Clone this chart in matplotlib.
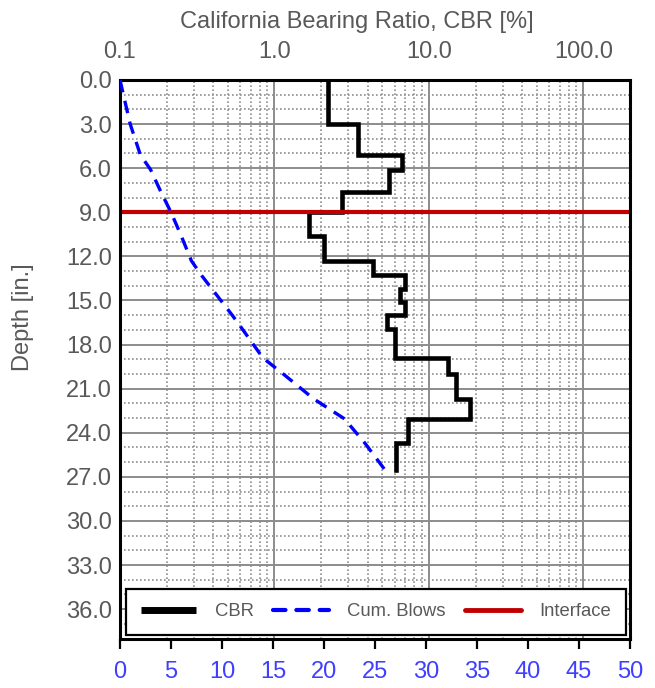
import matplotlib
matplotlib.use("Agg")
import matplotlib.pyplot as plt
from matplotlib.lines import Line2D
from matplotlib.ticker import LogLocator, NullFormatter, FixedLocator, MultipleLocator
import numpy as np

plt.rcParams['font.family'] = ['Liberation Sans', 'DejaVu Sans']

# ---- data ----
layer_bounds = [0, 3.0, 5.1, 6.1, 7.6, 9.0, 10.6, 12.3, 13.3, 14.2, 15.1, 16.0,
                16.95, 18.9, 20.0, 21.7, 23.05, 24.7, 26.55]
cbr_values = [2.21, 3.45, 6.67, 5.52, 2.73, 1.67, 2.10, 4.31, 7.0, 6.47, 7.0,
              5.38, 6.04, 13.3, 14.9, 18.3, 7.35, 6.1]
cum_blows = [0, 1, 2, 3, 4, 5, 6, 7, 8, 9, 10, 11, 12, 14, 16, 19, 22, 24, 26]
interface_depth = 9.0

cbr_ticks = [0.1, 1, 10, 100]
cbr_ticklabels = ["0.1", "1.0", "10.0", "100.0"]
depth_ticks = list(np.arange(0, 37, 3))
blow_ticks = list(range(0, 51, 5))
legend_labels = ['CBR', 'Cum. Blows', 'Interface']

# ---- figure ----
W, H = 655, 688
fig = plt.figure(figsize=(W / 100, H / 100), dpi=100)
ax = fig.add_axes([120 / W, 1 - 638.5 / H, 510 / W, 558.5 / H])
ax2 = ax.twiny()

gray = '#595959'
fs = 17

# staircase path for CBR
xs, ys = [], []
for i, v in enumerate(cbr_values):
    xs += [v, v]
    ys += [layer_bounds[i], layer_bounds[i + 1]]

ax.set_xscale('log')
ax.set_xlim(0.1, 200)
ax.set_ylim(38, 0)

ax.plot(xs, ys, color='black', lw=3.3, solid_joinstyle='miter', zorder=3)
ax.axhline(interface_depth, color='#C00000', lw=3.0, zorder=4)

ax.xaxis.set_ticks_position('top')
ax.xaxis.set_label_position('top')
ax.xaxis.set_major_locator(FixedLocator(cbr_ticks))
ax.set_xticklabels(cbr_ticklabels)
ax.xaxis.set_minor_locator(LogLocator(base=10, subs=np.arange(2, 10), numticks=20))
ax.xaxis.set_minor_formatter(NullFormatter())
ax.tick_params(axis='x', which='both', top=True, bottom=False, labeltop=True,
               labelbottom=False, length=0, pad=12, labelsize=fs, labelcolor=gray)

ax.set_yticks(depth_ticks)
ax.set_yticklabels([f"{d:.1f}" for d in depth_ticks])
ax.yaxis.set_minor_locator(MultipleLocator(1))
ax.tick_params(axis='y', which='both', length=0, pad=6, labelsize=fs, labelcolor=gray)

ax.grid(which='major', color='#8C8C8C', lw=1.4, ls='-', zorder=0)
ax.grid(which='minor', color='#8F8F8F', lw=1.2, ls=(0, (1, 1.4)), zorder=0)
ax.set_axisbelow(True)
for s in ax.spines.values():
    s.set_visible(False)

# bottom linear axis for cumulative blows
ax2.set_xlim(0, 50)
ax2.xaxis.set_ticks_position('bottom')
ax2.xaxis.set_label_position('bottom')
ax2.set_xticks(blow_ticks)
ax2.tick_params(axis='x', which='major', top=False, bottom=True, labeltop=False,
                labelbottom=True, direction='out', length=7, width=1.6,
                color='black', pad=9, labelsize=fs, labelcolor='#3F3FFF')
ax2.plot(cum_blows, layer_bounds, color='#0000FF', lw=2.4,
         ls=(0, (3.8, 2.6)), zorder=3)
for s in ax2.spines.values():
    s.set_color('black')
    s.set_linewidth(2.2)

# legend proxies (style only)
handles = [Line2D([], [], color='black', lw=5.0, solid_capstyle='butt'),
           Line2D([], [], color='#0000FF', lw=3.0, ls=(0, (3.0, 2.6)),
                  dash_capstyle='round'),
           Line2D([], [], color='#C00000', lw=3.5, solid_capstyle='round')]
leg = ax2.legend(handles, legend_labels,
                 loc='lower left', bbox_to_anchor=(0.0118, 0.006, 0.98, 0.084),
                 mode='expand', ncol=3, fontsize=13.3, labelcolor=gray,
                 frameon=True, fancybox=False, framealpha=1, edgecolor='black',
                 handlelength=3.0, borderaxespad=0, borderpad=0.8,
                 columnspacing=1.0, handletextpad=1.0)
leg.get_frame().set_linewidth(1.6)
leg.set_zorder(10)

fig.text(357 / W, 1 - 22 / H, 'California Bearing Ratio, CBR [%]', ha='center',
         va='center', fontsize=fs, color=gray)
fig.text(23 / W, 1 - 317 / H, 'Depth [in.]', ha='center', va='center',
         rotation=90, fontsize=fs, color=gray)

fig.savefig('out.png', dpi=100)
